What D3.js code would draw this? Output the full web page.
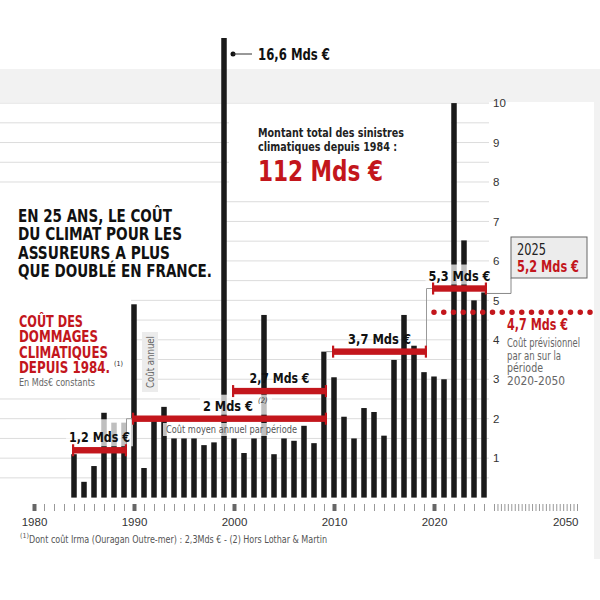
<!DOCTYPE html>
<html>
<head>
<meta charset="utf-8">
<script src="https://cdn.jsdelivr.net/npm/d3@7"></script>
<style>
  body { margin: 0; background: #fff; }
  svg { display: block; font-family: "Liberation Sans Narrow", "DejaVu Sans Condensed", "Roboto Condensed", "Arial Narrow", "Liberation Sans", sans-serif; }
</style>
</head>
<body>
<svg id="chart"></svg>
<script>
// annual cost of climate damage, Mds€ constants
const years = [1984, 1985, 1986, 1987, 1988, 1989, 1990, 1991, 1992, 1993,
               1994, 1995, 1996, 1997, 1998, 1999, 2000, 2001, 2002, 2003,
               2004, 2005, 2006, 2007, 2008, 2009, 2010, 2011, 2012, 2013,
               2014, 2015, 2016, 2017, 2018, 2019, 2020, 2021, 2022, 2023,
               2024, 2025];
const costs = [1.1, 0.4, 0.8, 2.15, 1.9, 1.9, 4.9, 0.75, 1.95, 2.3,
               1.5, 1.5, 1.5, 1.33, 1.4, 16.6, 1.5, 1.13, 1.5, 4.63,
               1.1, 1.5, 1.44, 1.82, 1.38, 3.7, 3.05, 2.05, 1.5, 2.27,
               2.17, 1.57, 3.49, 4.63, 3.85, 3.18, 3.07, 3.0, 10.0, 6.52,
               5.0, 5.2];

// average cost per period
const periodStart = [1984, 1990, 2000, 2010, 2020];
const periodEnd = [1989, 2009, 2009, 2019, 2025];
const periodMean = [1.2, 2.0, 2.7, 3.7, 5.3];
const periodLabels = ["1,2 Mds €", "2 Mds €", "2,7 Mds €", "3,7 Mds €", "5,3 Mds €"];

const forecastMean = 4.7;
const yTicks = [1, 2, 3, 4, 5, 6, 7, 8, 9, 10];
const xLabelYears = [1980, 1990, 2000, 2010, 2020, 2050];

const RED = "#c3161c";

class costChart {
    constructor(_config, _data) {
        this.config = {
            parentElement: _config.parentElement,
            containerWidth: _config.containerWidth || 600,
            containerHeight: _config.containerHeight || 600
        }
        this.data = _data;
        this.initVis();
    }

    initVis() {
        let vis = this;

        vis.svg = d3.select(vis.config.parentElement)
            .attr('width', vis.config.containerWidth)
            .attr('height', vis.config.containerHeight);

        // x is squeezed after 2025 (forecast period up to 2050)
        vis.xScale = d3.scaleLinear()
            .domain([1980, 2025, 2026, 2050])
            .range([34, 484, 494, 577]);

        // 1999 goes off the chart, so clamp it to the top
        vis.yScale = d3.scaleLinear()
            .domain([0, 11.65])
            .range([497.6, 38])
            .clamp(true);

        vis.xTickAxis = d3.axisBottom(vis.xScale)
            .tickValues(d3.range(1980, 2051))
            .tickSize(7)
            .tickFormat("");

        vis.xLabelAxis = d3.axisBottom(vis.xScale)
            .tickValues(xLabelYears)
            .tickSize(0)
            .tickPadding(0)
            .tickFormat(d3.format("d"));

        vis.yAxis = d3.axisRight(vis.yScale)
            .tickValues(yTicks)
            .tickSize(0)
            .tickPadding(3);

        // background pieces
        vis.svg.append("rect")
            .attr("x", 0).attr("y", 69)
            .attr("width", 594).attr("height", 33)
            .attr("fill", "#f2f2f2");
        vis.svg.append("rect")
            .attr("x", 594).attr("y", 69)
            .attr("width", 6).attr("height", 490)
            .attr("fill", "#f2f2f2");
    }

    updateVis() {
        let vis = this;
        vis.xValue = d => d.year;
        vis.yValue = d => d.cost;
        vis.gridValues = d3.range(0.5, 10.01, 0.5);
        vis.renderVis();
    }

    renderVis() {
        let vis = this;
        const x = vis.xScale, y = vis.yScale;
        const barW = 5.5;

        // gridlines
        vis.svg.append("g")
            .selectAll("line")
            .data(vis.gridValues)
            .join("line")
            .attr("x1", 0).attr("x2", 489)
            .attr("y1", d => y(d)).attr("y2", d => y(d))
            .attr("stroke", "#dcdcdc")
            .attr("stroke-width", 1);

        // white boxes behind the text blocks
        const boxes = [[0, 184, 222, 112], [0, 298, 131, 95], [229, 104, 222, 92]];
        vis.svg.append("g")
            .selectAll("rect")
            .data(boxes)
            .join("rect")
            .attr("x", d => d[0]).attr("y", d => d[1])
            .attr("width", d => d[2]).attr("height", d => d[3])
            .attr("fill", "#fff");

        // "Coût annuel" tag
        vis.svg.append("rect")
            .attr("x", 142).attr("y", 332)
            .attr("width", 16).attr("height", 60)
            .attr("fill", "#ececec");
        vis.svg.append("text")
            .attr("transform", "translate(154,362) rotate(-90)")
            .attr("text-anchor", "middle")
            .attr("font-size", 11)
            .attr("fill", "#666")
            .attr("textLength", 52)
            .attr("lengthAdjust", "spacingAndGlyphs")
            .text("Coût annuel");

        // bars
        vis.svg.append("g")
            .selectAll("rect")
            .data(vis.data)
            .join("rect")
            .attr("x", d => x(vis.xValue(d)) - barW / 2)
            .attr("width", barW)
            .attr("y", d => y(vis.yValue(d)))
            .attr("height", d => y(0) - y(vis.yValue(d)))
            .attr("fill", "#1a1a1a");

        // 16,6 callout for 1999
        const big = vis.data.find(d => d.cost > 11);
        const bx = x(big.year) + 9;
        vis.svg.append("circle").attr("cx", bx).attr("cy", 54).attr("r", 2.5).attr("fill", "#111");
        vis.svg.append("line").attr("x1", bx).attr("x2", bx + 19).attr("y1", 54).attr("y2", 54)
            .attr("stroke", "#333").attr("stroke-width", 1);
        vis.svg.append("text")
            .attr("x", bx + 25).attr("y", 59.5)
            .attr("font-size", 15).attr("font-weight", "bold").attr("fill", "#111")
            .attr("textLength", 72).attr("lengthAdjust", "spacingAndGlyphs")
            .text(d3.format(".1f")(big.cost).replace(".", ",") + " Mds €");

        // period labels (with a see-through white backing on some)
        const periods = periodMean.map((m, i) => ({
            start: periodStart[i], end: periodEnd[i], mean: m, label: periodLabels[i]
        }));
        const labelWidths = [61, 50, 60, 63, 62];
        const halo = vis.svg.append("g");
        const labelG = vis.svg.append("g");
        periods.forEach((p, i) => {
            const x1 = x(p.start) - 2, x2 = x(p.end) + 3;
            let cx = (x1 + x2) / 2;
            if (i === 1) cx = 228;
            labelG.append("text")
                .attr("x", cx).attr("y", y(p.mean) - 8)
                .attr("text-anchor", "middle")
                .attr("font-size", 14.5).attr("font-weight", "bold").attr("fill", "#111")
                .attr("textLength", labelWidths[i]).attr("lengthAdjust", "spacingAndGlyphs")
                .text(p.label);
            if (i === 0 || i === 1 || i === 4) {
                const top = i === 0 ? y(p.mean) - 31 : y(p.mean) - 24;
                halo.append("rect")
                    .attr("x", cx - labelWidths[i] / 2 - 3).attr("y", top)
                    .attr("width", labelWidths[i] + 6 + (i === 1 ? 16 : 0))
                    .attr("height", y(p.mean) - 4 - top)
                    .attr("fill", "#fff").attr("opacity", 0.72);
            }
            if (i === 1) {
                labelG.append("text")
                    .attr("x", cx + labelWidths[i] / 2 + 5).attr("y", y(p.mean) - 16)
                    .attr("font-size", 7.5).attr("font-style", "italic").attr("fill", "#333")
                    .text("(2)");
            }
        });

        // subtitle under the 2 Mds line
        halo.append("rect")
            .attr("x", 163).attr("y", 423).attr("width", 137).attr("height", 13)
            .attr("fill", "#fff").attr("opacity", 0.72);
        labelG.append("text")
            .attr("x", 166).attr("y", 432.5)
            .attr("font-size", 11).attr("fill", "#555")
            .attr("textLength", 131).attr("lengthAdjust", "spacingAndGlyphs")
            .text("Coût moyen annuel par période");

        // gray step connectors between periods
        const steps = [[0, 1], [1, 3], [3, 4]];
        vis.svg.append("g")
            .selectAll("path")
            .data(steps)
            .join("path")
            .attr("d", s => {
                const a = periods[s[0]], b = periods[s[1]];
                const sx = x(a.end) + 2.5;
                return `M${sx},${y(a.mean)}V${y(b.mean)}H${x(b.start) - 2}`;
            })
            .attr("fill", "none")
            .attr("stroke", "#9a9a9a")
            .attr("stroke-width", 1);

        // red average lines with end caps
        const avgG = vis.svg.append("g").attr("fill", RED);
        periods.forEach(p => {
            const x1 = x(p.start) - 2, x2 = x(p.end) + 3, py = y(p.mean);
            avgG.append("rect").attr("x", x1).attr("y", py - 3.2).attr("width", x2 - x1).attr("height", 6.4);
            avgG.append("rect").attr("x", x1).attr("y", py - 6).attr("width", 2.2).attr("height", 12);
            avgG.append("rect").attr("x", x2 - 2.2).attr("y", py - 6).attr("width", 2.2).attr("height", 12);
        });
        // bring labels above the red lines
        labelG.raise();

        // forecast dotted line
        vis.svg.append("line")
            .attr("x1", x(2020)).attr("x2", x(2050) + 15)
            .attr("y1", y(forecastMean)).attr("y2", y(forecastMean))
            .attr("stroke", RED)
            .attr("stroke-width", 5.5)
            .attr("stroke-linecap", "round")
            .attr("stroke-dasharray", "0 9.75");

        const fx = 507;
        vis.svg.append("text")
            .attr("x", fx).attr("y", 330)
            .attr("font-size", 15.5).attr("font-weight", "bold").attr("fill", RED)
            .attr("textLength", 61).attr("lengthAdjust", "spacingAndGlyphs")
            .text(String(forecastMean).replace(".", ",") + " Mds €");
        const fLines = ["Coût prévisionnel", "par an sur la", "période", "2020-2050"];
        const fWidths = [73, 54, 36, 58];
        vis.svg.append("g")
            .selectAll("text")
            .data(fLines)
            .join("text")
            .attr("x", fx)
            .attr("y", (d, i) => 347 + i * 12.7)
            .attr("font-size", 11.5).attr("fill", "#666")
            .attr("textLength", (d, i) => fWidths[i]).attr("lengthAdjust", "spacingAndGlyphs")
            .text(d => d);

        // 2025 box
        const last = vis.data[vis.data.length - 1];
        const boxX = x(last.year) + 27;
        vis.svg.append("path")
            .attr("d", `M${x(last.year) + barW / 2},${y(last.cost) + 1}H${boxX}V278`)
            .attr("fill", "none").attr("stroke", "#888").attr("stroke-width", 1);
        vis.svg.append("rect")
            .attr("x", boxX).attr("y", 237).attr("width", 76).attr("height", 41)
            .attr("fill", "#ececec").attr("stroke", "#666").attr("stroke-width", 1);
        vis.svg.append("text")
            .attr("x", boxX + 6).attr("y", 255)
            .attr("font-size", 16).attr("fill", "#222")
            .attr("textLength", 29).attr("lengthAdjust", "spacingAndGlyphs")
            .text(last.year);
        vis.svg.append("text")
            .attr("x", boxX + 6).attr("y", 272)
            .attr("font-size", 15).attr("font-weight", "bold").attr("fill", RED)
            .attr("textLength", 62).attr("lengthAdjust", "spacingAndGlyphs")
            .text(String(last.cost).replace(".", ",") + " Mds €");

        // headline
        const head = ["EN 25 ANS, LE COÛT", "DU CLIMAT POUR LES", "ASSUREURS A PLUS", "QUE DOUBLÉ EN FRANCE."];
        const headW = [154, 164, 152, 194];
        vis.svg.append("g")
            .selectAll("text")
            .data(head)
            .join("text")
            .attr("x", 18)
            .attr("y", (d, i) => 222 + i * 18.3)
            .attr("font-size", 18.5).attr("font-weight", "bold").attr("fill", "#111")
            .attr("textLength", (d, i) => headW[i]).attr("lengthAdjust", "spacingAndGlyphs")
            .text(d => d);

        const title = ["COÛT DES", "DOMMAGES", "CLIMATIQUES", "DEPUIS 1984."];
        const titleW = [64, 79, 89, 91];
        vis.svg.append("g")
            .selectAll("text")
            .data(title)
            .join("text")
            .attr("x", 19)
            .attr("y", (d, i) => 327 + i * 15.4)
            .attr("font-size", 16).attr("font-weight", "bold").attr("fill", RED)
            .attr("textLength", (d, i) => titleW[i]).attr("lengthAdjust", "spacingAndGlyphs")
            .text(d => d);
        vis.svg.append("text")
            .attr("x", 114).attr("y", 366)
            .attr("font-size", 7).attr("fill", "#222")
            .text("(1)");
        vis.svg.append("text")
            .attr("x", 19).attr("y", 385.5)
            .attr("font-size", 11).attr("fill", "#666")
            .attr("textLength", 76).attr("lengthAdjust", "spacingAndGlyphs")
            .text("En Mds€ constants");

        // total amount block
        const total = ["Montant total des sinistres", "climatiques depuis 1984 :"];
        const totalW = [146, 139];
        vis.svg.append("g")
            .selectAll("text")
            .data(total)
            .join("text")
            .attr("x", 258)
            .attr("y", (d, i) => 137 + i * 14)
            .attr("font-size", 13).attr("font-weight", "bold").attr("fill", "#222")
            .attr("textLength", (d, i) => totalW[i]).attr("lengthAdjust", "spacingAndGlyphs")
            .text(d => d);
        vis.svg.append("text")
            .attr("x", 258).attr("y", 181)
            .attr("font-size", 28).attr("font-weight", "bold").attr("fill", RED)
            .attr("textLength", 125).attr("lengthAdjust", "spacingAndGlyphs")
            .text("112 Mds €");

        // axes
        const xTicksG = vis.svg.append("g")
            .attr("transform", "translate(0,504)")
            .call(vis.xTickAxis);
        xTicksG.select(".domain").remove();
        xTicksG.selectAll(".tick line")
            .attr("stroke", d => d % 10 === 0 && d <= 2020 ? "#666" : "#999")
            .attr("stroke-width", d => d % 10 === 0 && d <= 2020 ? 4 : 1);

        const xLabG = vis.svg.append("g")
            .attr("transform", "translate(0,518)")
            .call(vis.xLabelAxis);
        xLabG.select(".domain").remove();
        xLabG.selectAll("text")
            .attr("font-family", null)
            .attr("font-size", 11.5)
            .attr("fill", "#333")
            .attr("text-anchor", d => d === 2050 ? "end" : "middle")
            .attr("dx", d => d === 2050 ? 1 : 0);

        const yG = vis.svg.append("g")
            .attr("transform", "translate(490,0)")
            .call(vis.yAxis);
        yG.select(".domain").remove();
        yG.selectAll("text")
            .attr("font-family", null)
            .attr("font-size", 11.5)
            .attr("fill", "#333");

        // footnote
        vis.svg.append("text")
            .attr("x", 20).attr("y", 538)
            .attr("font-size", 7).attr("fill", "#555")
            .text("(1)");
        vis.svg.append("text")
            .attr("x", 29).attr("y", 543)
            .attr("font-size", 10.5).attr("fill", "#555")
            .attr("textLength", 298).attr("lengthAdjust", "spacingAndGlyphs")
            .text("Dont coût Irma (Ouragan Outre-mer) : 2,3Mds € - (2) Hors Lothar & Martin");
    }
}

const data = years.map((yr, i) => ({ year: yr, cost: costs[i] }));
const chart = new costChart({ parentElement: "#chart" }, data);
chart.updateVis();
</script>
</body>
</html>
